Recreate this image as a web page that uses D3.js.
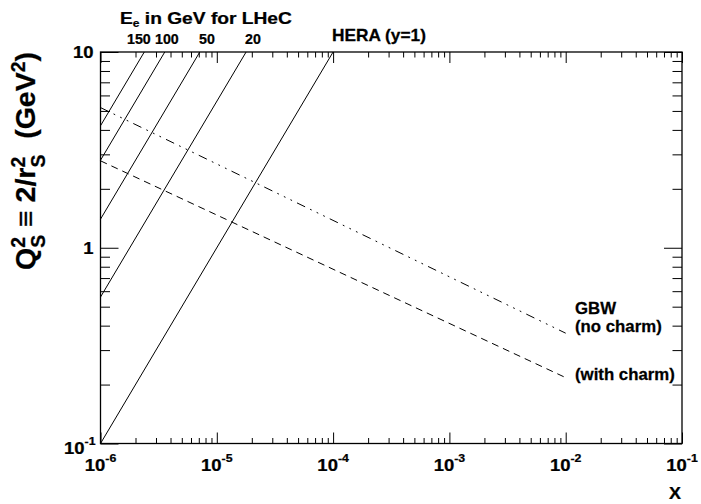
<!DOCTYPE html>
<html>
<head>
<meta charset="utf-8">
<script src="https://cdn.jsdelivr.net/npm/d3@7"></script>
<style>
  html, body { margin: 0; padding: 0; background: #fff; }
  svg { display: block; }
  text { font-family: "Liberation Sans", Arial, sans-serif; font-weight: bold; fill: #000;
         stroke: #000; stroke-width: 0.25px; }
</style>
</head>
<body>
<svg id="chart" width="701" height="504"></svg>
<script>
// ---------------- data ----------------
const xDomain = [1e-6, 1e-1];
const yDomain = [0.1, 10];
const xTickExponents = [-6, -5, -4, -3, -2, -1];
const yTickValues = [0.1, 1, 10];

// LHeC kinematic limit lines (y=1), electron energies in GeV
const lhecEnergies = ["150", "100", "50", "20"];
const lhecX = [[1e-6, 2.38e-6], [1e-6, 3.57e-6], [1e-6, 7.14e-6], [1e-6, 1.786e-5]];
const lhecQ2 = [[4.2, 10], [2.8, 10], [1.4, 10], [0.56, 10]];

// HERA (y=1)
const heraX = [1e-6, 1e-4];
const heraQ2 = [0.1, 10];

// GBW saturation scale
const gbwX = [1e-6, 1e-2];
const gbwNoCharmQ2 = [5.2, 0.366];
const gbwWithCharmQ2 = [2.78, 0.217];

// ---------------- drawing ----------------
const svg = d3.select("#chart");
const L = 100.5, R = 682, T = 52, B = 443.5;
const x = d3.scaleLog().domain(xDomain).range([L, R]);
const y = d3.scaleLog().domain(yDomain).range([B, T]);

// text helper: horizontally stretched text anchored at (px,py)
function label(px, py, size, sx, anchor) {
  return svg.append("text")
    .attr("transform", `translate(${px},${py}) scale(${sx},1)`)
    .attr("text-anchor", anchor || "start")
    .style("font-size", size + "px");
}

// frame
svg.append("rect").attr("x", L).attr("y", T).attr("width", R - L).attr("height", B - T)
  .attr("fill", "none").attr("stroke", "#000").attr("stroke-width", 1.3);

// ticks via d3 axes (labels drawn separately)
const xAll = x.ticks();
const yAll = y.ticks();
const isMajor = v => Math.abs(Math.log10(v) - Math.round(Math.log10(v))) < 1e-6;

function styleAxis(g) {
  g.select(".domain").remove();
  g.selectAll(".tick line").attr("stroke", "#000").attr("stroke-width", 1);
  g.selectAll(".tick text").remove();
}
svg.append("g").attr("transform", `translate(0,${B})`)
  .call(d3.axisTop(x).tickValues(xAll).tickSizeInner(0).tickSizeOuter(0))
  .call(styleAxis)
  .selectAll(".tick line").attr("y2", d => isMajor(d) ? -11 : -5.5);
svg.append("g").attr("transform", `translate(0,${T})`)
  .call(d3.axisBottom(x).tickValues(xAll).tickSizeInner(0).tickSizeOuter(0))
  .call(styleAxis)
  .selectAll(".tick line").attr("y2", d => isMajor(d) ? 11 : 5.5);
svg.append("g").attr("transform", `translate(${L},0)`)
  .call(d3.axisRight(y).tickValues(yAll).tickSizeInner(0).tickSizeOuter(0))
  .call(styleAxis)
  .selectAll(".tick line").attr("x2", d => isMajor(d) ? 18 : 9.5);
svg.append("g").attr("transform", `translate(${R},0)`)
  .call(d3.axisLeft(y).tickValues(yAll).tickSizeInner(0).tickSizeOuter(0))
  .call(styleAxis)
  .selectAll(".tick line").attr("x2", d => isMajor(d) ? -18 : -9.5);

// x tick labels: 10^n
xTickExponents.forEach(e => {
  const t = label(x(Math.pow(10, e)), 470.5, 16.5, 1.12, "middle");
  t.append("tspan").text("10");
  t.append("tspan").attr("dy", -9).style("font-size", "11px").text(String(e));
});
// y tick labels
yTickValues.forEach(v => {
  const e = Math.round(Math.log10(v));
  if (e === 0) { label(93.5, y(v) + 6, 16.5, 1.12, "end").text("1"); }
  else if (e === 1) { label(93.5, y(v) + 6, 16.5, 1.12, "end").text("10"); }
  else {
    const t = label(95.5, y(v) + 10, 16.5, 1.12, "end");
    t.append("tspan").text("10");
    t.append("tspan").attr("dy", -9).style("font-size", "11px").text(String(e));
  }
});

// lines
const line = d3.line().x(d => x(d[0])).y(d => y(d[1]));
const plot = svg.append("g");
lhecX.forEach((xs, i) => {
  plot.append("path").datum(xs.map((xv, j) => [xv, lhecQ2[i][j]]))
    .attr("d", line).attr("fill", "none").attr("stroke", "#000").attr("stroke-width", 1);
});
plot.append("path").datum(heraX.map((xv, j) => [xv, heraQ2[j]]))
  .attr("d", line).attr("fill", "none").attr("stroke", "#000").attr("stroke-width", 1);
plot.append("path").datum(gbwX.map((xv, j) => [xv, gbwNoCharmQ2[j]]))
  .attr("d", line).attr("fill", "none").attr("stroke", "#000").attr("stroke-width", 1)
  .attr("stroke-dasharray", "9,5.5,1.8,5.5,1.8,5.5,1.8,5.5");
plot.append("path").datum(gbwX.map((xv, j) => [xv, gbwWithCharmQ2[j]]))
  .attr("d", line).attr("fill", "none").attr("stroke", "#000").attr("stroke-width", 1)
  .attr("stroke-dasharray", "7,5");

// top annotations
const head = label(120, 23.5, 16, 1.2);
head.append("tspan").text("E");
head.append("tspan").attr("dy", 3).style("font-size", "10px").text("e");
head.append("tspan").attr("dy", -3).text(" in GeV for LHeC");

const eLabelX = [127, 155, 199, 245];
lhecEnergies.forEach((s, i) => {
  label(eLabelX[i], 43.5, 14.5, 0.98).text(s);
});
label(332, 40.5, 16, 1.08).text("HERA (y=1)");

// GBW labels
label(575, 314, 16, 1.05).text("GBW");
label(575, 331.5, 16, 1.05).text("(no charm)");
label(575, 380, 16, 1.05).text("(with charm)");

// x title
label(681, 499, 16, 1.12, "end").text("X");

// y title with stacked sub/superscripts, measured at runtime
(function () {
  const fs = 28.5, small = fs * 0.68;
  const g = svg.append("g");
  let cx = 0;
  function piece(txt, size, dy) {
    const t = g.append("text").attr("x", cx).attr("y", dy).style("font-size", size + "px")
      .style("white-space", "pre").text(txt);
    return t.node().getComputedTextLength();
  }
  function run(txt) { cx += piece(txt, fs, 0); }
  function stack(sup, sub) {
    const w1 = piece(sup, small, -10.5);
    const w2 = piece(sub, small, 10);
    cx += Math.max(w1, w2);
  }
  function sup(txt) { cx += piece(txt, small, -10.5); }
  run("Q"); stack("2", "S"); run(" \u2261 2/r"); stack("2", "S"); run("  (GeV"); sup("2"); run(")");
  const total = cx;
  g.attr("transform", `translate(35,${T + total}) rotate(-90)`);
})();
</script>
</body>
</html>
